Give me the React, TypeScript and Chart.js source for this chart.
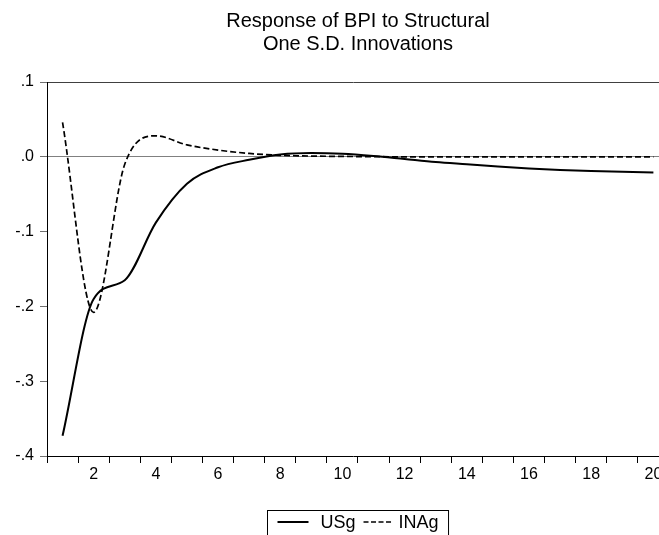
import React, { useEffect, useRef } from "react";
import { Chart, registerables } from "chart.js";

Chart.register(...registerables);

const periods = [1, 2, 3, 4, 5, 6, 7, 8, 9, 10, 11, 12, 13, 14, 15, 16, 17, 18, 19, 20];
const usgValues = [
  -0.373, -0.19, -0.165, -0.088, -0.036, -0.014, -0.004, 0.003, 0.005, 0.004,
  0.001, -0.003, -0.007, -0.01, -0.013, -0.0155, -0.0175, -0.019, -0.02, -0.021,
];
const inagValues = [
  0.046, -0.208, -0.01, 0.028, 0.016, 0.009, 0.0045, 0.002, 0.001, 0.0005,
  0.0002, 0, 0, 0, 0, 0, 0, 0, 0, 0,
];
const yTickValues = [0.1, 0, -0.1, -0.2, -0.3, -0.4];
const xLabelValues = [2, 4, 6, 8, 10, 12, 14, 16, 18, 20];
const titleLines = ["Response of BPI to Structural", "One S.D. Innovations"];
const seriesNames = ["USg", "INAg"];

const X_MIN = 0.5;
const X_MAX = 20.18;
const FONT = "'Liberation Sans', Arial, Helvetica, sans-serif";

function fmtY(v: number): string {
  if (Math.abs(v) < 1e-9) return ".0";
  const s = v < 0 ? "-" : "";
  return s + "." + Math.round(Math.abs(v) * 10);
}

export default function App() {
  const ref = useRef<HTMLCanvasElement>(null);

  useEffect(() => {
    if (!ref.current) return;

    const decor = {
      id: "eviewsDecor",
      afterDraw(chart: any) {
        const ctx = chart.ctx as CanvasRenderingContext2D;
        const xs = chart.scales.x;
        const cx = xs.getPixelForValue((X_MIN + periods[periods.length - 1] + 0.5) / 2);
        ctx.save();
        ctx.fillStyle = "#000";
        ctx.textAlign = "center";
        ctx.textBaseline = "alphabetic";
        ctx.font = `20px ${FONT}`;
        ctx.fillText(titleLines[0], cx, 27);
        ctx.fillText(titleLines[1], cx, 50);

        // legend
        ctx.font = `18px ${FONT}`;
        const pad = 10;
        const solidLen = 31;
        const dashLen = 28;
        const gapLT1 = 12;
        const gapLT2 = 7;
        const gapItems = 8;
        const w0 = ctx.measureText(seriesNames[0]).width;
        const w1 = ctx.measureText(seriesNames[1]).width;
        const total = pad + solidLen + gapLT1 + w0 + gapItems + dashLen + gapLT2 + w1 + pad;
        const left = Math.round(cx - total / 2) + 0.5;
        const top = 510.5;
        ctx.strokeStyle = "#000";
        ctx.lineWidth = 1;
        ctx.strokeRect(left, top, total, 40);
        const ly = 522;
        let x = left + pad;
        ctx.lineWidth = 2;
        ctx.beginPath();
        ctx.moveTo(x, ly);
        ctx.lineTo(x + solidLen, ly);
        ctx.stroke();
        x += solidLen + gapLT1;
        ctx.textAlign = "left";
        ctx.textBaseline = "middle";
        ctx.fillText(seriesNames[0], x, ly + 1);
        x += w0 + gapItems;
        ctx.lineWidth = 1.6;
        ctx.setLineDash([5, 2.5]);
        ctx.beginPath();
        ctx.moveTo(x, ly);
        ctx.lineTo(x + dashLen, ly);
        ctx.stroke();
        ctx.setLineDash([]);
        x += dashLen + gapLT2;
        ctx.fillText(seriesNames[1], x, ly + 1);
        ctx.restore();
      },
    };

    const chart = new Chart(ref.current, {
      type: "line",
      data: {
        datasets: [
          {
            label: seriesNames[0],
            data: periods.map((p, i) => ({ x: p, y: usgValues[i] })),
            borderColor: "#000",
            borderWidth: 2,
            pointRadius: 0,
            cubicInterpolationMode: "monotone",
            tension: 0.4,
            fill: false,
          },
          {
            label: seriesNames[1],
            data: periods.map((p, i) => ({ x: p, y: inagValues[i] })),
            borderColor: "#000",
            borderWidth: 1.7,
            borderDash: [6, 3],
            pointRadius: 0,
            cubicInterpolationMode: "monotone",
            tension: 0.4,
            fill: false,
          },
        ],
      },
      options: {
        animation: false,
        responsive: false,
        maintainAspectRatio: false,
        layout: { padding: { top: 82, left: 0, right: 0, bottom: 0 } },
        plugins: {
          legend: { display: false },
          title: { display: false },
          tooltip: { enabled: false },
        },
        scales: {
          x: {
            type: "linear",
            min: X_MIN,
            max: X_MAX,
            afterFit: (s: any) => {
              s.height = 79;
            },
            afterBuildTicks: (s: any) => {
              const t: { value: number }[] = [];
              for (let v = X_MIN; v <= X_MAX + 1e-9; v += 0.5) t.push({ value: v });
              if (Math.abs(t[t.length - 1].value - X_MAX) > 1e-9) t.push({ value: X_MAX });
              s.ticks = t;
            },
            border: { display: true, color: "#000", width: 1 },
            grid: {
              drawOnChartArea: false,
              drawTicks: true,
              tickLength: 7,
              tickColor: (c: any) => {
                const v = c.tick ? c.tick.value : 0;
                return Math.abs(v - Math.floor(v) - 0.5) < 1e-9 ? "#000" : "rgba(0,0,0,0)";
              },
            },
            ticks: {
              autoSkip: false,
              maxRotation: 0,
              minRotation: 0,
              padding: 0,
              color: "#000",
              font: { family: FONT, size: 16, lineHeight: 1.45 },
              callback: (v: any) => {
                const n = Number(v);
                return xLabelValues.some((l) => Math.abs(l - n) < 1e-9) ? String(n) : "";
              },
            },
          },
          y: {
            type: "linear",
            min: -0.4,
            max: 0.1,
            afterFit: (s: any) => {
              s.width = 47;
            },
            afterBuildTicks: (s: any) => {
              s.ticks = yTickValues.map((v) => ({ value: v }));
            },
            border: { display: true, color: "#000", width: 1 },
            grid: {
              drawOnChartArea: true,
              drawTicks: true,
              tickLength: 7,
              tickColor: "#707070",
              lineWidth: 1,
              color: (c: any) => {
                const v = c.tick ? c.tick.value : 1;
                if (Math.abs(v) < 1e-9) return "#808080";
                if (Math.abs(v - 0.1) < 1e-9) return "#404040";
                return "rgba(0,0,0,0)";
              },
            },
            ticks: {
              padding: 6,
              color: "#000",
              font: { family: FONT, size: 16 },
              callback: (v: any) => fmtY(Number(v)),
            },
          },
        },
      },
      plugins: [decor],
    });

    return () => chart.destroy();
  }, []);

  return (
    <div style={{ position: "fixed", left: 0, top: 0, width: 659, height: 535, background: "#fff" }}>
      <canvas ref={ref} width={659} height={535} style={{ display: "block" }} />
    </div>
  );
}
